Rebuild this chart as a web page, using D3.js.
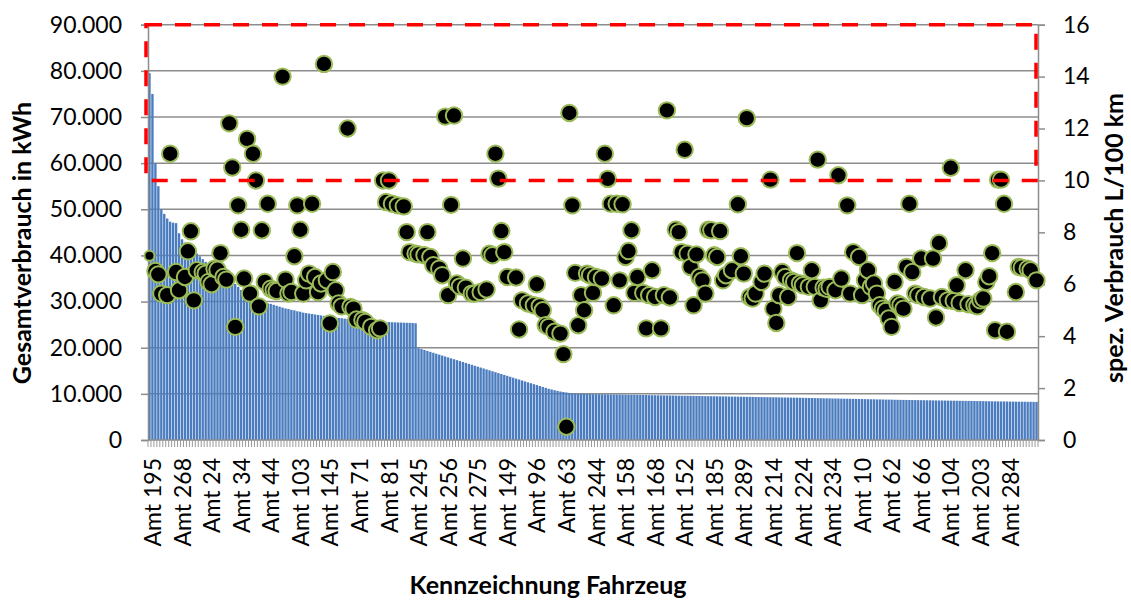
<!doctype html>
<html lang="de">
<head>
<meta charset="utf-8">
<title>Gesamtverbrauch und spez. Verbrauch je Fahrzeug</title>
<style>
  body { margin: 0; background: #fff; }
  svg text { font-family: Lato, "Open Sans", sans-serif; fill: #000; }
  .axis path, .axis line { stroke: #8c8c8c; stroke-width: 1.5; }
</style>
</head>
<body>
<div id="chart"></div>
<script src="https://cdn.jsdelivr.net/npm/d3@7"></script>
<script>
// every 10th vehicle is labelled on the category axis
var tickLabels = ["Amt 195", "Amt 268", "Amt 24", "Amt 34", "Amt 44", "Amt 103", "Amt 145", "Amt 71",
  "Amt 81", "Amt 245", "Amt 256", "Amt 275", "Amt 149", "Amt 96", "Amt 63", "Amt 244", "Amt 158",
  "Amt 168", "Amt 152", "Amt 185", "Amt 289", "Amt 214", "Amt 224", "Amt 234", "Amt 10", "Amt 62",
  "Amt 66", "Amt 104", "Amt 203", "Amt 284"];

// Gesamtverbrauch in kWh (bars, left axis)
var totalKwh = [
  79500, 75000, 60000, 55000, 50000, 49000, 48000, 47300, 47100, 47000,
  44800, 43500, 42800, 42200, 41600, 41000, 40400, 39800, 39200, 38600,
  38000, 37500, 37000, 36500, 36000, 35600, 35200, 34800, 34400, 33800,
  33200, 32500, 31600, 30800, 30200, 30000, 29900, 29800, 29700, 29650,
  29600, 29500, 29300, 29100, 28900, 28700, 28500, 28400, 28200, 28100,
  27900, 27800, 27600, 27500, 27400, 27300, 27200, 27100, 27000, 26900,
  26800, 26700, 26600, 26500, 26450, 26400, 26300, 26250, 26200, 26100,
  26050, 26000, 25950, 25900, 25850, 25800, 25750, 25700, 25650, 25600,
  25580, 25550, 25520, 25500, 25480, 25450, 25420, 25400, 25380, 25350,
  25300, 19900, 19700, 19500, 19300, 19100, 18900, 18700, 18500, 18300,
  18100, 17900, 17700, 17500, 17300, 17100, 16900, 16700, 16500, 16300,
  16100, 15900, 15700, 15500, 15300, 15100, 14900, 14700, 14500, 14300,
  14100, 13900, 13700, 13500, 13300, 13100, 12900, 12700, 12500, 12300,
  12100, 11900, 11700, 11500, 11300, 11100, 10950, 10800, 10650, 10500,
  10400, 10300, 10200, 10100, 10000, 9990, 9980, 9970, 9960, 9950,
  9930, 9920, 9910, 9900, 9890, 9880, 9870, 9860, 9850, 9840,
  9820, 9810, 9800, 9790, 9780, 9770, 9760, 9750, 9740, 9720,
  9710, 9700, 9690, 9680, 9670, 9660, 9650, 9640, 9620, 9610,
  9600, 9590, 9580, 9570, 9560, 9550, 9540, 9520, 9510, 9500,
  9490, 9480, 9470, 9460, 9450, 9440, 9420, 9410, 9400, 9390,
  9380, 9370, 9360, 9350, 9340, 9320, 9310, 9300, 9290, 9280,
  9270, 9260, 9250, 9240, 9220, 9210, 9200, 9190, 9180, 9170,
  9150, 9140, 9120, 9110, 9100, 9080, 9070, 9060, 9040, 9030,
  9020, 9000, 8990, 8980, 8960, 8950, 8940, 8920, 8910, 8900,
  8880, 8870, 8860, 8840, 8830, 8820, 8800, 8790, 8780, 8760,
  8750, 8740, 8720, 8710, 8700, 8690, 8680, 8670, 8660, 8650,
  8640, 8630, 8620, 8610, 8600, 8590, 8580, 8570, 8560, 8550,
  8540, 8530, 8520, 8510, 8500, 8490, 8480, 8470, 8460, 8450,
  8440, 8430, 8420, 8410, 8400, 8390, 8380, 8370, 8360, 8350,
  8340, 8330, 8320, 8310, 8300, 8300, 8290, 8280, 8270, 8260, 8250
];

// spez. Verbrauch L/100 km (dots, right axis); null = no readable marker
var specUse = [
  7.1, null, 6.51, 6.38, 5.64, null, 5.58, 11.03, null, 6.47,
  5.77, null, 6.28, 7.27, 8.04, 5.38, 6.54, null, 6.47, 6.41,
  6.09, 6.0, 6.6, 6.56, 7.2, 6.28, 6.18, 12.2, 10.5, 4.36,
  9.04, 8.1, 6.22, 11.6, 5.64, 11.03, 10.0, 5.15, 8.08, 6.09,
  9.1, 5.83, 5.77, 5.74, null, 14.0, 6.18, 5.64, 5.7, 7.08,
  9.04, 8.1, 5.64, 6.15, 6.41, 9.1, 6.28, 5.7, 6.03, 14.49,
  6.15, 4.49, 6.47, 5.77, 5.26, 5.15, null, 12.0, 5.13, 5.06,
  4.64, null, 4.62, 4.55, null, 4.36, null, 4.23, 4.3, 10.0,
  9.17, 10.0, 9.1, null, 9.04, null, 9.0, 8.01, 7.24, null,
  7.18, 7.15, null, 7.12, 8.01, 7.05, 6.73, null, 6.6, 6.35,
  12.46, 5.58, 9.06, 12.5, 6.03, 5.92, 6.99, 5.87, null, 5.64,
  5.64, null, 5.7, null, 5.8, 7.18, 7.12, 11.03, 10.07, 8.05,
  7.24, 6.28, null, null, 6.26, 4.26, 5.38, null, 5.26, null,
  5.19, 6.0, 5.15, 5.0, 4.42, 4.36, null, 4.17, null, 4.1,
  3.31, 0.51, 12.6, 9.04, 6.44, 4.42, 5.58, 5.0, 6.41, 6.35,
  5.67, 6.28, null, 6.22, 11.03, 10.06, 9.1, 5.19, 9.1, 6.15,
  9.08, 7.05, 7.28, 8.08, 5.67, 6.28, null, 5.67, 4.3, 5.58,
  6.54, 5.51, null, 4.3, 5.58, 12.7, 5.49, null, 8.1, 8.01,
  7.24, 11.18, 7.18, 6.67, 5.19, 7.15, 6.28, 6.15, 5.64, 8.1,
  8.08, 7.12, 7.05, 8.05, 6.15, 6.35, null, 6.54, null, 9.08,
  7.08, 6.41, 12.4, 5.51, 5.45, 5.64, null, 6.09, 6.41, null,
  10.03, 5.06, 4.51, 5.58, 6.47, 6.28, 5.51, 6.15, 6.09, 7.2,
  6.03, 5.96, null, 5.9, 6.54, 5.9, 10.8, 5.38, 5.87, 5.83,
  5.9, null, 5.77, 10.2, 6.22, null, 9.04, 5.64, 7.24, null,
  7.05, 5.58, 6.15, 6.54, 5.9, 6.03, 5.64, 5.19, 5.06, 4.97,
  4.68, 4.36, 6.09, 5.26, 5.19, 5.06, 6.67, 9.1, 6.47, 5.64,
  5.58, 6.99, 5.51, null, 5.45, 6.99, 4.72, 7.59, 5.51, null,
  5.38, 10.49, 5.36, 5.96, 5.28, null, 6.54, 5.23, null, 5.19,
  5.15, 5.38, 5.45, 6.09, 6.31, 7.2, 4.23, 10.03, 10.03, 9.1,
  4.17, null, null, 5.7, 6.67, 6.64, null, 6.6, 6.54, null, 6.15
];

var leftTicks = [0, 10000, 20000, 30000, 40000, 50000, 60000, 70000, 80000, 90000];
var rightTicks = [0, 2, 4, 6, 8, 10, 12, 14, 16];
var limit = 10; // red marked band: spez. Verbrauch above 10 L/100 km

var width = 1131, height = 601;
var margin = {top: 24.7, right: 93, bottom: 161, left: 148};
var x0 = margin.left, x1 = width - margin.right;
var yTop = margin.top, yBot = height - margin.bottom;

var de = d3.formatLocale({decimal: ",", thousands: ".", grouping: [3], currency: ["", " €"]});
var fmt = de.format(",");

var svg = d3.select("#chart").append("svg")
  .attr("width", width)
  .attr("height", height);

var x = d3.scaleBand()
  .domain(d3.range(totalKwh.length))
  .range([x0, x1])
  .paddingInner(0.2)
  .paddingOuter(0.1);

var yL = d3.scaleLinear().domain([0, 90000]).range([yBot, yTop]);
var yR = d3.scaleLinear().domain([0, 16]).range([yBot, yTop]);

// gridlines
svg.append("g")
  .selectAll("line")
  .data(leftTicks.slice(1))
  .enter().append("line")
  .attr("x1", x0).attr("x2", x1)
  .attr("y1", function (d) { return yL(d); })
  .attr("y2", function (d) { return yL(d); })
  .attr("stroke", "#8c8c8c")
  .attr("stroke-width", 1.5);

// bars
svg.append("g")
  .selectAll("rect")
  .data(totalKwh)
  .enter().append("rect")
  .attr("x", function (d, i) { return x(i); })
  .attr("width", x.bandwidth())
  .attr("y", function (d) { return yL(d); })
  .attr("height", function (d) { return yBot - yL(d); })
  .attr("fill", "#4a7cbf");

// left axis
var gl = svg.append("g")
  .attr("class", "axis")
  .attr("transform", "translate(" + x0 + ",0)")
  .call(d3.axisLeft(yL).tickValues(leftTicks).tickFormat(fmt).tickSize(7).tickPadding(19));
gl.selectAll("text").style("font-size", "23px");

// right axis
var gr = svg.append("g")
  .attr("class", "axis")
  .attr("transform", "translate(" + x1 + ",0)")
  .call(d3.axisRight(yR).tickValues(rightTicks).tickSize(7).tickPadding(18));
gr.selectAll("text").style("font-size", "23px");

// category axis: baseline, a tick at each category boundary, every 10th label
var step = x.step();
var gx = svg.append("g");
gx.selectAll("line.cat")
  .data(d3.range(totalKwh.length + 1))
  .enter().append("line")
  .attr("class", "cat")
  .attr("x1", function (i) { return x0 + i * step; })
  .attr("x2", function (i) { return x0 + i * step; })
  .attr("y1", yBot).attr("y2", yBot + 7)
  .attr("stroke", "#9a9a9a")
  .attr("stroke-width", 1);
gx.append("line")
  .attr("x1", x0).attr("x2", x1)
  .attr("y1", yBot).attr("y2", yBot)
  .attr("stroke", "#8c8c8c")
  .attr("stroke-width", 1.5);
gx.selectAll("text")
  .data(tickLabels)
  .enter().append("text")
  .attr("transform", function (d, k) {
    var cx = x(k * 10) + x.bandwidth() / 2 + 3.5;
    return "translate(" + cx + "," + (yBot + 18) + ") rotate(-90)";
  })
  .attr("dy", "0.35em")
  .attr("text-anchor", "end")
  .style("font-size", "23px")
  .text(function (d) { return d; });

// dots
var pts = specUse.map(function (v, i) { return {i: i, v: v}; })
  .filter(function (d) { return d.v !== null; });
svg.append("g")
  .selectAll("circle")
  .data(pts)
  .enter().append("circle")
  .attr("cx", function (d) { return x(d.i) + x.bandwidth() / 2; })
  .attr("cy", function (d) { return yR(d.v); })
  .attr("r", function (d) { return d.i === 0 ? 5 : 8.2; })
  .attr("fill", "#000")
  .attr("stroke", "#9bbb59")
  .attr("stroke-width", 2);

// red dashed frame around the high consumption band
svg.append("rect")
  .attr("x", x0 - 2)
  .attr("y", yR(16))
  .attr("width", x1 - x0)
  .attr("height", yR(limit) - yR(16))
  .attr("fill", "none")
  .attr("stroke", "#ff0000")
  .attr("stroke-width", 3.5)
  .attr("stroke-dasharray", "16 13");

// axis titles
svg.append("text")
  .attr("transform", "translate(22," + 243 + ") rotate(-90)")
  .attr("dy", "0.35em")
  .attr("text-anchor", "middle")
  .style("font-size", "25px")
  .style("font-weight", "bold")
  .text("Gesamtverbrauch in kWh");

svg.append("text")
  .attr("transform", "translate(1114," + 238 + ") rotate(-90)")
  .attr("dy", "0.35em")
  .attr("text-anchor", "middle")
  .style("font-size", "25px")
  .style("font-weight", "bold")
  .text("spez. Verbrauch L/100 km");

svg.append("text")
  .attr("x", 548)
  .attr("y", 594)
  .attr("text-anchor", "middle")
  .style("font-size", "25px")
  .style("font-weight", "bold")
  .text("Kennzeichnung Fahrzeug");
</script>
</body>
</html>
